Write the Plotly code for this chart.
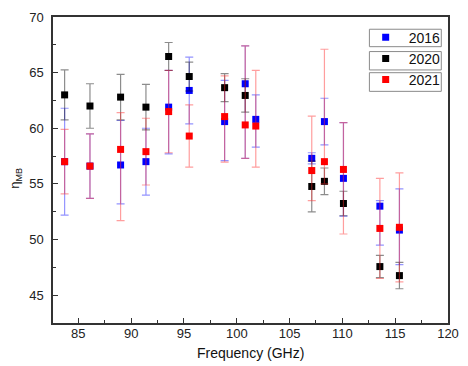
import plotly.graph_objects as go

freq = [83.7, 86.1, 89.0, 91.4, 93.55, 95.5, 98.85, 100.8, 101.8, 107.1, 108.3, 110.1, 113.55, 115.4]

y2016 = [57.0, 56.6, 56.7, 57.0, 61.9, 63.4, 60.6, 64.0, 60.8, 57.3, 60.6, 55.5, 53.0, 50.85]
e2016_up = [4.8, 2.9, 4.0, 3.0, 3.3, 3.0, 3.7, 3.4, 2.2, 0.5, 2.1, 5.0, 0.5, 3.7]
e2016_dn = [4.8, 2.9, 3.5, 3.0, 4.2, 3.0, 3.5, 6.7, 2.5, 0.5, 2.1, 3.4, 3.5, 3.1]

y2020 = [63.0, 62.0, 62.8, 61.9, 66.45, 64.65, 63.65, 62.95, None, 54.77, 55.23, 53.24, 47.57, 46.76]
e2020_up = [2.25, 2.0, 2.05, 2.05, 1.26, 1.3, 1.26, 1.5, 0, 2.28, 1.2, 1.1, 1.0, 1.18]
e2020_dn = [2.25, 2.0, 2.05, 2.05, 1.26, 1.3, 1.26, 1.5, 0, 2.28, 1.2, 1.1, 1.0, 1.18]

y2021 = [57.0, 56.6, 58.1, 57.9, 61.5, 59.3, 61.05, 60.3, 60.2, 56.2, 57.0, 56.3, 51.0, 51.1]
e2021_up = [2.9, 2.9, 3.3, 3.0, 3.7, 2.8, 3.65, 7.1, 5.0, 4.9, 10.1, 4.2, 4.5, 4.9]
e2021_dn = [2.9, 2.9, 6.4, 3.0, 3.7, 2.8, 4.1, 3.0, 3.7, 2.7, 2.0, 5.8, 4.5, 4.9]

series = [
    ("2016", y2016, e2016_up, e2016_dn, "#0000ff", "rgba(60,60,255,0.55)"),
    ("2020", y2020, e2020_up, e2020_dn, "#000000", "rgba(0,0,0,0.45)"),
    ("2021", y2021, e2021_up, e2021_dn, "#ff0000", "rgba(255,40,40,0.45)"),
]

fig = go.Figure()
for name, ys, eu, ed, col, ecol in series:
    fig.add_trace(go.Scatter(
        x=freq, y=ys, mode="markers", name=name, legendgroup=name,
        marker=dict(symbol="square", size=7, color=col, line=dict(width=0)),
        error_y=dict(type="data", symmetric=False, array=eu, arrayminus=ed,
                     color=ecol, thickness=1.2, width=4),
    ))

font = "Arial, Liberation Sans, sans-serif"

# legend boxes (paper coords of plot area)
boxes = [(0.801, 0.983, 0.903, 0.960), (0.801, 0.983, 0.827, 0.887), (0.801, 0.983, 0.757, 0.818)]
shapes = [dict(type="rect", xref="paper", yref="paper", x0=a, x1=b, y0=c, y1=d,
               line=dict(color="#8a8a8a", width=1), fillcolor="white", layer="above")
          for a, b, c, d in boxes]

fig.update_layout(
    width=468, height=366,
    margin=dict(l=53, r=20, t=17, b=43, autoexpand=False),
    paper_bgcolor="white", plot_bgcolor="white",
    font=dict(family=font, size=13, color="#222"),
    showlegend=True,
    legend=dict(x=0.784, y=0.985, xanchor="left", yanchor="top",
                bgcolor="rgba(0,0,0,0)", borderwidth=0,
                font=dict(family=font, size=14, color="#111"),
                itemwidth=36, tracegroupgap=0),
    shapes=shapes,
    xaxis=dict(
        range=[82.6, 120], tickvals=[85, 90, 95, 100, 105, 110, 115, 120],
        ticks="inside", ticklen=5, tickwidth=1.2, tickcolor="#333",
        minor=dict(dtick=2.5, tick0=82.5, ticks="inside", ticklen=3, tickcolor="#333", tickwidth=1),
        showline=True, linecolor="#333", linewidth=1.5, mirror=True,
        showgrid=False, zeroline=False, automargin=False, ticklabelstandoff=-2,
        tickfont=dict(size=13, color="#222"),
    ),
    yaxis=dict(
        range=[42.5, 70], tickvals=[45, 50, 55, 60, 65, 70],
        ticks="inside", ticklen=5, tickwidth=1.2, tickcolor="#333",
        minor=dict(dtick=2.5, tick0=42.5, ticks="inside", ticklen=3, tickcolor="#333", tickwidth=1),
        showline=True, linecolor="#333", linewidth=1.5, mirror=True,
        showgrid=False, zeroline=False, automargin=False, ticklabelstandoff=5,
        tickfont=dict(size=13, color="#222"),
    ),
    annotations=[
        dict(text="Frequency (GHz)", xref="paper", yref="paper", x=0.499, y=-0.097,
             xanchor="center", yanchor="middle", showarrow=False,
             font=dict(family=font, size=14, color="#111")),
        dict(text="η<sub>MB</sub>", xref="paper", yref="paper", x=-0.094, y=0.474,
             xanchor="center", yanchor="middle", showarrow=False, textangle=-90,
             font=dict(family=font, size=13, color="#111")),
    ],
)

fig.write_html("out.html", config={"displayModeBar": False},
               post_script="document.body.style.margin='0px';")
